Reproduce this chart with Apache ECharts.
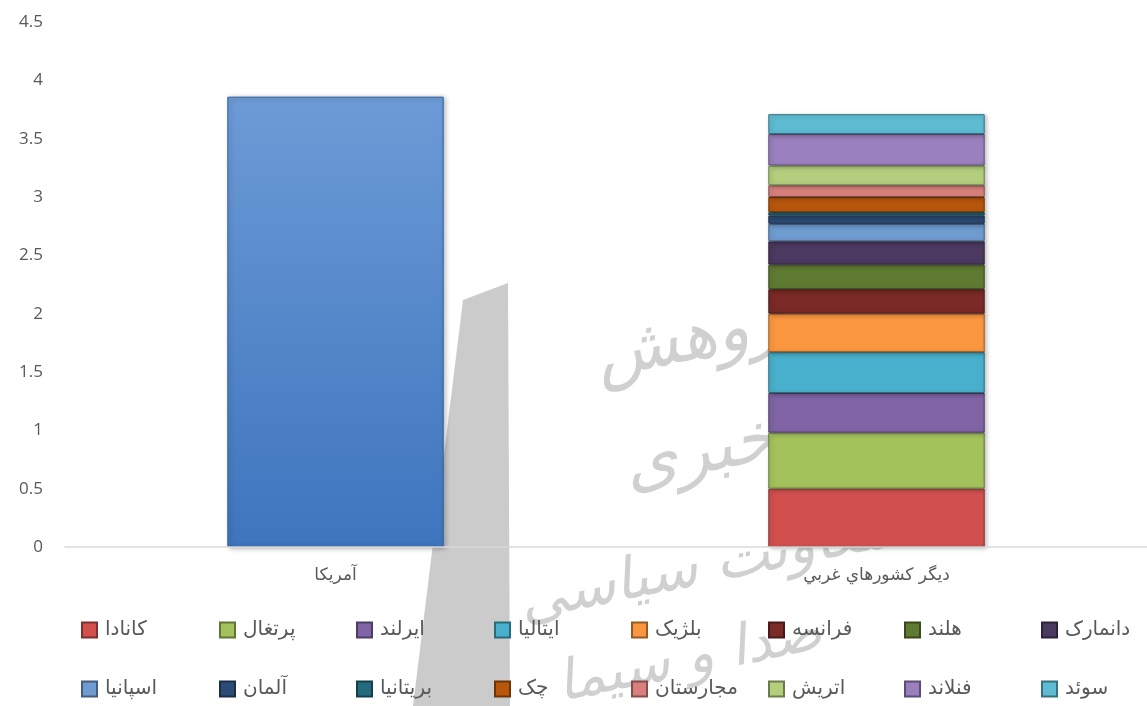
<!DOCTYPE html>
<html>
<head>
<meta charset="utf-8">
<script src="https://cdn.jsdelivr.net/npm/echarts@6/dist/echarts.min.js"></script>
<style>
  html, body { margin: 0; padding: 0; background: #fff; }
  #chart { width: 1147px; height: 706px; }
</style>
</head>
<body>
<div id="chart"></div>
<script>
// categories on the x axis
const categories = ['آمريکا', 'ديگر کشورهاي غربي']

// united states bar (only first category)
const usName = 'آمريکا'
const usValue = 3.86

// stacked countries, bottom to top (same order as legend)
const countries = [
  'کانادا', 'پرتغال', 'ايرلند', 'ايتاليا', 'بلژيک', 'فرانسه', 'هلند', 'دانمارک',
  'اسپانيا', 'آلمان', 'بريتانيا', 'چک', 'مجارستان', 'اتريش', 'فنلاند', 'سوئد'
]
const countryValues = [0.50, 0.48, 0.34, 0.35, 0.33, 0.21, 0.21, 0.20,
  0.15, 0.07, 0.03, 0.13, 0.10, 0.17, 0.27, 0.17]

const yTicks = { min: 0, max: 4.5, interval: 0.5 }

const colors = [
  '#D1504E', '#A3C25B', '#8064A6', '#48B0CC', '#F9963F', '#7A2A27', '#5F7A31', '#4B3961',
  '#6E9BD0', '#2B4C77', '#256B7E', '#B8560B', '#D9807D', '#B3CE7C', '#9A80BF', '#5DBBD2'
]

function shade(hex, amt) {
  const n = parseInt(hex.slice(1), 16)
  const r = (n >> 16) & 255, g = (n >> 8) & 255, b = n & 255
  const f = v => Math.max(0, Math.min(255, Math.round(amt > 0 ? v + (255 - v) * amt : v * (1 + amt))))
  return 'rgb(' + f(r) + ',' + f(g) + ',' + f(b) + ')'
}

function segStyle(hex) {
  return {
    color: hex,
    borderColor: shade(hex, -0.4),
    borderWidth: 1,
    shadowColor: 'rgba(0,0,0,0.25)',
    shadowBlur: 4,
    shadowOffsetX: 2,
    shadowOffsetY: 1
  }
}

const chart = echarts.init(document.getElementById('chart'))

const series = [{
  name: usName,
  type: 'bar',
  stack: 'total',
  barWidth: '40%',
  itemStyle: {
    color: new echarts.graphic.LinearGradient(0, 0, 0, 1, [
      { offset: 0, color: '#6C9BD6' },
      { offset: 1, color: '#3E75BE' }
    ]),
    borderColor: '#2f5f9e',
    borderWidth: 1,
    shadowColor: 'rgba(0,0,0,0.3)',
    shadowBlur: 5,
    shadowOffsetX: 2,
    shadowOffsetY: 1
  },
  data: [usValue, '-']
}]
countries.forEach((name, i) => {
  series.push({
    name: name,
    type: 'bar',
    stack: 'total',
    barWidth: '40%',
    itemStyle: segStyle(colors[i]),
    data: ['-', countryValues[i]]
  })
})

// legend columns, two rows of eight
const colLeft = [81, 219, 356, 494, 631, 768, 904, 1041]
const rowTop = [620, 679]
const legends = countries.map((name, i) => ({
  data: [name],
  left: colLeft[i % 8],
  top: rowTop[Math.floor(i / 8)],
  padding: 0,
  itemWidth: 15,
  itemHeight: 15,
  itemGap: 0,
  icon: 'rect',
  selectedMode: false,
  textStyle: {
    color: '#595959',
    fontSize: 20,
    fontFamily: 'DejaVu Sans',
    padding: [0, 0, 0, 3]
  }
}))

const wm = '#d0d0d0'

const option = {
  backgroundColor: '#fff',
  animation: false,
  color: colors,
  grid: {
    left: 65,
    right: 0,
    top: 22,
    bottom: 159
  },
  legend: legends,
  graphic: [
    {
      type: 'polygon',
      z: 0,
      shape: { points: [[463, 300], [508, 283], [510, 706], [413, 706]] },
      style: { fill: '#cbcbcb' }
    },
    {
      type: 'text', z: 0, x: 700, y: 340, rotation: 0.2,
      style: { text: 'پژوهش', fill: wm, font: 'italic 68px "DejaVu Sans"', align: 'center', verticalAlign: 'middle' }
    },
    {
      type: 'text', z: 0, x: 700, y: 455, rotation: 0.2,
      style: { text: 'خبری', fill: wm, font: 'italic 68px "DejaVu Sans"', align: 'center', verticalAlign: 'middle' }
    },
    {
      type: 'text', z: 0, x: 705, y: 568, rotation: 0.2,
      style: { text: 'معاونت سیاسی', fill: wm, font: 'italic 58px "DejaVu Sans"', align: 'center', verticalAlign: 'middle' }
    },
    {
      type: 'text', z: 0, x: 690, y: 660, rotation: 0.2,
      style: { text: 'صدا و سیما', fill: wm, font: 'italic 56px "DejaVu Sans"', align: 'center', verticalAlign: 'middle' }
    }
  ],
  xAxis: {
    type: 'category',
    data: categories,
    z: 3,
    axisLine: {
      lineStyle: { color: '#d9d9d9', width: 1.5 }
    },
    axisTick: { show: false },
    splitLine: { show: false },
    axisLabel: {
      color: '#595959',
      fontSize: 17,
      fontFamily: 'DejaVu Sans',
      margin: 20
    }
  },
  yAxis: {
    type: 'value',
    min: yTicks.min,
    max: yTicks.max,
    interval: yTicks.interval,
    axisLine: { show: false },
    axisTick: { show: false },
    splitLine: { show: false },
    axisLabel: {
      color: '#595959',
      fontSize: 17,
      fontFamily: 'Open Sans',
      margin: 22
    }
  },
  series: series
}

chart.setOption(option)
</script>
</body>
</html>
